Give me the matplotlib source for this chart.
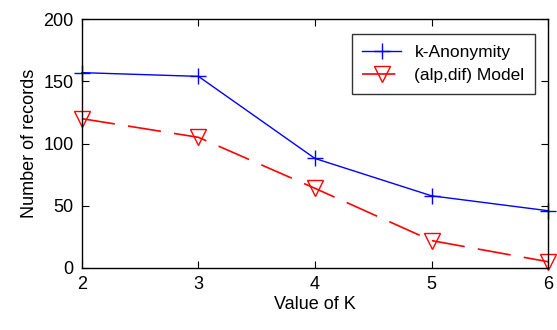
import matplotlib
matplotlib.use("Agg")
import matplotlib.pyplot as plt

plt.rcParams['font.family'] = ['Liberation Sans', 'DejaVu Sans']

k_values = [2, 3, 4, 5, 6]
k_anonymity = [157, 154, 88, 58, 46]
alp_dif = [120, 105, 64, 22, 5]
x_ticks = [2, 3, 4, 5, 6]
y_ticks = [0, 50, 100, 150, 200]

fig = plt.figure(figsize=(5.57, 3.30), dpi=100)
ax = fig.add_axes([0.147, 0.188, 0.837, 0.754])

ax.plot(k_values, k_anonymity, color='blue', linestyle='-', linewidth=1,
        marker='+', markersize=12, markeredgewidth=1, label='k-Anonymity', clip_on=False)
ax.plot(k_values, alp_dif, color='red', linestyle=(0, (20, 8)), linewidth=1.2,
        marker='v', markersize=11, markerfacecolor='none', markeredgecolor='red',
        markeredgewidth=1, label='(alp,dif) Model', clip_on=False)

ax.set_xlim(2, 6)
ax.set_ylim(0, 200)
ax.set_xticks(x_ticks)
ax.set_yticks(y_ticks)
ax.tick_params(direction='in', top=True, right=True, labelsize=13, length=5, pad=6)
ax.set_xlabel('Value of K', fontsize=13, labelpad=2)
ax.set_ylabel('Number of records', fontsize=13)
for s in ax.spines.values():
    s.set_linewidth(1)

leg = ax.legend(loc='upper right', bbox_to_anchor=(0.972, 0.94), borderaxespad=0,
                fontsize=12.5, frameon=True, fancybox=False, edgecolor='black',
                handlelength=2.2, borderpad=0.6, labelspacing=0.5)
leg.get_frame().set_linewidth(1)

fig.savefig('out.png', dpi=100)
